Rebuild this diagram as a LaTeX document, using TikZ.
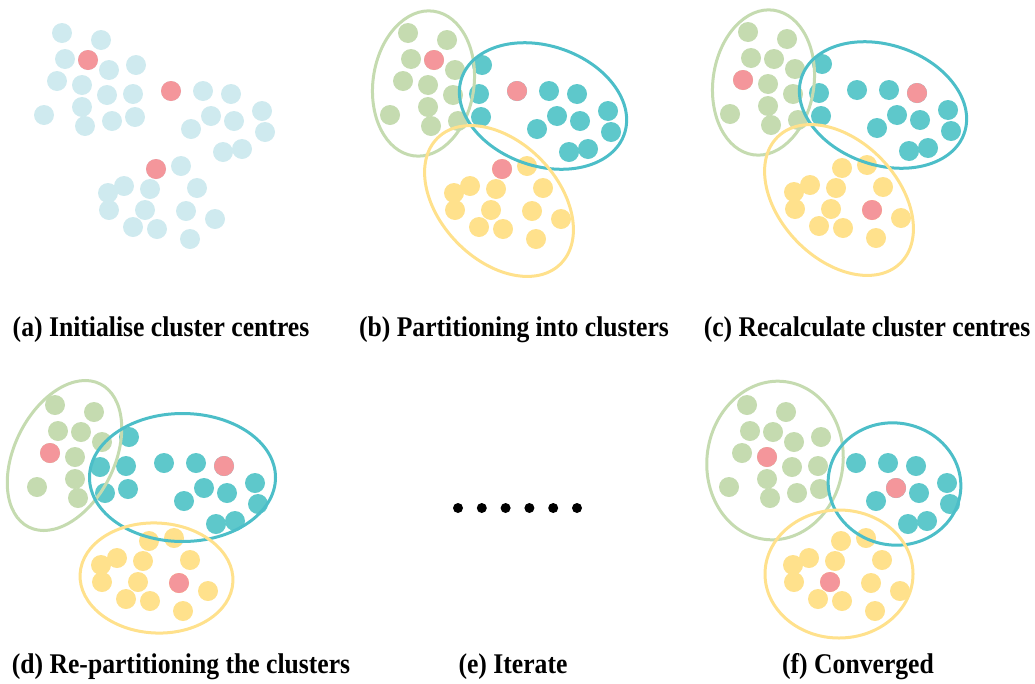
\documentclass[tikz,border=0pt]{standalone}
\usepackage{fontspec}
\setmainfont{Liberation Serif}[FakeStretch=0.9]

\definecolor{paleblue}{RGB}{207,234,239}
\definecolor{centrered}{RGB}{244,150,155}
\definecolor{leafgreen}{RGB}{197,219,176}
\definecolor{seateal}{RGB}{94,200,203}
\definecolor{tealring}{RGB}{76,190,200}
\definecolor{sunyellow}{RGB}{255,225,140}

% point layout, in the coordinates of panel (a)
\newcommand{\greenmain}{62/33,101/40,65/59,88/60,109/70,57/81,82/85,44/115,82/107,85/126}
\newcommand{\greenedge}{107/95,112/121}
\newcommand{\tealedge}{136/65,133/94,135/117}
\newcommand{\tealmain}{171/91,203/91,231/94,262/111,211/116,234/121,191/129,265/132,223/152,242/149}
\newcommand{\yellowall}{156/169,181/166,124/186,108/193,150/189,197/188,109/210,145/210,186/211,215/219,133/227,157/229,190/239}
\newcommand{\putdots}[2]{\foreach \x/\y in #1 {\fill[blob=#2] (\x,\y) circle (10);}}

\begin{document}
\begin{tikzpicture}[x=1pt,y=-1pt,
    blob/.style={fill=#1},
    hull/.style={draw=#1,line width=3pt},
    caption/.style={anchor=base,font=\fontsize{28.5}{30}\selectfont\bfseries}]
\useasboundingbox (0,0) rectangle (1035,683);

% (a) initial centres
\begin{scope}
  \putdots{\greenmain}{paleblue}
  \putdots{\greenedge}{paleblue}
  \putdots{\tealedge}{paleblue}
  \putdots{\tealmain}{paleblue}
  \putdots{\yellowall}{paleblue}
  \putdots{{88/60,171/91,156/169}}{centrered}
\end{scope}
\node[caption] (capa) at (161,336) {(a) Initialise cluster centres};

% (b) partitioning
\begin{scope}[shift={(346,0)}]
  \putdots{\greenmain}{leafgreen}
  \putdots{\greenedge}{leafgreen}
  \putdots{\tealedge}{seateal}
  \putdots{\tealmain}{seateal}
  \putdots{\yellowall}{sunyellow}
  \putdots{{88/60,171/91,156/169}}{centrered}
\end{scope}
\draw[hull=leafgreen,rotate around={-8:(423.5,83.5)}] (423.5,83.5) ellipse [x radius=50.5,y radius=73];
\draw[hull=tealring,rotate around={-19:(543,106)}] (543,106) ellipse [x radius=86,y radius=60];
\draw[hull=sunyellow,rotate around={-46:(499,201)}] (499,201) ellipse [x radius=88,y radius=59];
\node[caption] (capb) at (514,336) {(b) Partitioning into clusters};

% (c) new centres
\begin{scope}[shift={(686,-1)}]
  \putdots{\greenmain}{leafgreen}
  \putdots{\greenedge}{leafgreen}
  \putdots{\tealedge}{seateal}
  \putdots{\tealmain}{seateal}
  \putdots{\yellowall}{sunyellow}
  \putdots{{57/81,231/94,186/211}}{centrered}
\end{scope}
\draw[hull=leafgreen,rotate around={-8:(763.5,82.5)}] (763.5,82.5) ellipse [x radius=50.5,y radius=73];
\draw[hull=tealring,rotate around={-19:(883,105)}] (883,105) ellipse [x radius=86,y radius=60];
\draw[hull=sunyellow,rotate around={-46:(839,200)}] (839,200) ellipse [x radius=88,y radius=59];
\node[caption] (capc) at (867,336) {(c) Recalculate cluster centres};

% (d) re-partitioning
\begin{scope}[shift={(-7,372)}]
  \putdots{\greenmain}{leafgreen}
  \putdots{\greenedge}{seateal}
  \putdots{\tealedge}{seateal}
  \putdots{\tealmain}{seateal}
  \putdots{\yellowall}{sunyellow}
  \putdots{{57/81,231/94,186/211}}{centrered}
\end{scope}
\draw[hull=leafgreen,rotate around={-26.5:(64.5,455.5)}] (64.5,455.5) ellipse [x radius=50,y radius=80];
\draw[hull=tealring] (182.5,477.5) ellipse [x radius=93,y radius=64];
\draw[hull=sunyellow,rotate around={-3:(156.5,578)}] (156.5,578) ellipse [x radius=76.5,y radius=55];
\node[caption] (capd) at (181,673) {(d) Re-partitioning the clusters};

% (e) iterate
\foreach \i in {0,...,5}
  \fill (458+23.8*\i,508) circle (5);
\node[caption] (cape) at (513,673) {(e) Iterate};

% (f) converged
\begin{scope}[shift={(685,372)}]
  \putdots{\greenmain}{leafgreen}
  \putdots{\greenedge}{leafgreen}
  \putdots{\tealedge}{leafgreen}
  \putdots{\tealmain}{seateal}
  \putdots{\yellowall}{sunyellow}
  \putdots{{82/85,211/116,145/210}}{centrered}
\end{scope}
\draw[hull=leafgreen,rotate around={-8:(775,460.5)}] (775,460.5) ellipse [x radius=68,y radius=79.5];
\draw[hull=tealring,rotate around={-10:(894.5,484)}] (894.5,484) ellipse [x radius=66.5,y radius=61];
\draw[hull=sunyellow] (839,574) ellipse [x radius=74,y radius=64];
\node[caption] (capf) at (858,673) {(f) Converged};
\end{tikzpicture}
\end{document}
